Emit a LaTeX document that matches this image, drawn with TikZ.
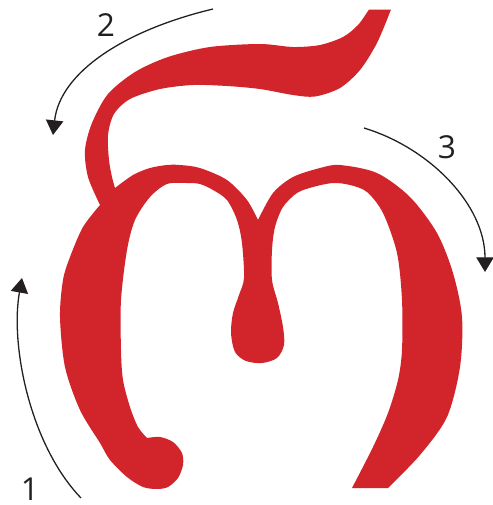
\documentclass[tikz,border=0pt]{standalone}
\usepackage{fontspec}
\setmainfont{Open Sans}
\usetikzlibrary{arrows.meta}
\definecolor{glyphred}{HTML}{D2242B}
\definecolor{arrowdark}{HTML}{231F20}
\begin{document}
\begin{tikzpicture}[x=0.3mm,y=-0.3mm,
  glyph/.style={fill=glyphred,draw=none},
  strokearrow/.style={draw=arrowdark,line width=1.1pt,-{Triangle[length=4.4mm,width=5.2mm]}},
  numlabel/.style={text=arrowdark,font=\fontsize{27}{30}\selectfont,inner sep=0pt,anchor=base}]
\useasboundingbox (0,0) rectangle (493,505);
% glyph outline
\fill[glyph] (391,9.5)
  -- plot[smooth] coordinates {(391,9.5) (377,43) (360,70) (340,88) (315,96.5) (293,95) (260,89) (227,86) (193,85) (160,89) (130,99) (114,114) (108,135) (109,160) (112,177) (115,188)}
  -- plot[smooth] coordinates {(115,188) (133,175) (150,168) (167,165) (180,165) (200,168) (227,180) (247,200) (258,220)}
  -- plot[smooth] coordinates {(258,220) (273,193) (293,177) (320,168) (340,165) (377,173) (410,197) (437,233) (453,273) (462,317) (460,367) (447,417) (420,455) (388,488)}
  -- (352,488)
  -- plot[smooth] coordinates {(352,488) (373,447) (388,413) (398,380) (402,350) (402,300) (397,253) (383,213) (367,192) (350,185) (333,183) (313,187) (297,193) (283,207) (275,227) (272,250) (272,280) (278,303) (283,327) (284,345) (277,358) (262,363) (246,361) (235,352) (231,333) (233,313) (239,295) (244,278) (242,243) (237,220) (227,200) (213,190) (200,184) (187,183) (167,184) (150,197) (135,220) (127,250) (121,300) (121,350) (123,380) (130,407) (138,427) (147,438)}
  -- plot[smooth] coordinates {(147,438) (160,437) (173,442) (182,453) (183,465) (178,478) (168,487) (157,489) (143,487) (127,477) (110,460) (100,443) (80,410) (65,367) (60,317) (63,280) (70,257) (83,227) (100,205)}
  -- plot[smooth] coordinates {(100,205) (88,177) (85,150) (92,123) (108,94) (135,72) (168,57) (210,47) (260,44) (293,47) (320,45) (343,37) (358,25) (369,9.5)}
  -- cycle;
% stroke-order arrows
\coordinate (s1) at (81,498);
\coordinate (e1) at (22,278);
\coordinate (s2) at (213,9);
\coordinate (e2) at (53,135);
\coordinate (s3) at (364,128);
\coordinate (e3) at (485,272);
\draw[strokearrow] (s1) .. controls (30,445) and (10,345) .. (e1);
\draw[strokearrow] (s2) .. controls (125,30) and (60,72) .. (e2);
\draw[strokearrow] (s3) .. controls (430,148) and (485,205) .. (e3);
% labels
\node[numlabel] (n1) at (30,500) {1};
\node[numlabel] (n2) at (106,36.5) {2};
\node[numlabel] (n3) at (447,158) {3};
\end{tikzpicture}
\end{document}
